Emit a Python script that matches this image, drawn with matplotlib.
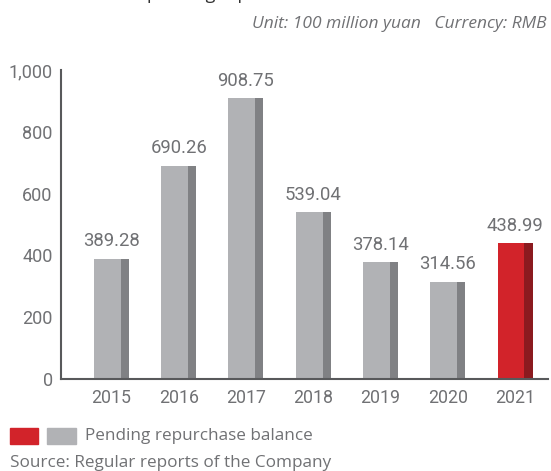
import matplotlib
matplotlib.use("Agg")
import matplotlib.pyplot as plt
from matplotlib.patches import Rectangle

years = ["2015", "2016", "2017", "2018", "2019", "2020", "2021"]
values = [389.28, 690.26, 908.75, 539.04, 378.14, 314.56, 438.99]
yticks = [0, 200, 400, 600, 800, 1000]
ytick_labels = ["0", "200", "400", "600", "800", "1,000"]

W, H = 551, 471
fig = plt.figure(figsize=(W / 100, H / 100), dpi=100)
ax = fig.add_axes([61 / W, 1 - 379 / H, (548 - 61) / W, (379 - 70) / H])

txt = "#707174"
num_font = "Roboto"
txt_font = "Open Sans"

gray_f, gray_s = "#b1b2b5", "#808184"
red_f, red_s = "#d2232a", "#8b1a1f"

x = list(range(len(years)))
front_colors = [gray_f] * 6 + [red_f]
side_colors = [gray_s] * 6 + [red_s]
ax.bar([i - 0.26 for i in x], values, width=0.40, align="edge", color=front_colors, zorder=2)
ax.bar([i + 0.14 for i in x], values, width=0.12, align="edge", color=side_colors, zorder=2)

for i, v in zip(x, values):
    ax.annotate(f"{v:.2f}", (i, v), xytext=(0, 6), textcoords="offset points",
                ha="center", va="bottom", fontsize=13.3, color=txt, family=num_font)

ax.set_xlim(-0.75, 6.49)
ax.set_ylim(0, 1000)
ax.set_xticks(x)
ax.set_xticklabels(years, fontsize=12.8, color=txt, family=num_font)
ax.set_yticks(yticks)
ax.set_yticklabels(ytick_labels, fontsize=13, color=txt, family=num_font)
ax.tick_params(axis="both", length=0)
ax.tick_params(axis="x", pad=7)
ax.tick_params(axis="y", pad=6)
for s in ["top", "right"]:
    ax.spines[s].set_visible(False)
for s in ["left", "bottom"]:
    ax.spines[s].set_color("#58595b")
    ax.spines[s].set_linewidth(1.5)

# partially cut-off title at the very top (as in the reference)
fig.text(147 / W, 1 + 1 / H, "pending repurchase balance", fontsize=13, color="#333333",
         family=txt_font, ha="left", va="baseline")

fig.text(546 / W, 1 - 24 / H, "Unit: 100 million yuan   Currency: RMB", fontsize=12.5,
         color=txt, family=txt_font, style="italic", ha="right", va="center")

# legend
fig.patches.append(Rectangle((10 / W, 1 - 444 / H), 28 / W, 16 / H, transform=fig.transFigure,
                             color=red_f))
fig.patches.append(Rectangle((47 / W, 1 - 444 / H), 29 / W, 16 / H, transform=fig.transFigure,
                             color=gray_f))
fig.text(85 / W, 1 - 436 / H, "Pending repurchase balance", fontsize=12.3, color=txt,
         family=txt_font, ha="left", va="center")
fig.text(10 / W, 1 - 463 / H, "Source: Regular reports of the Company", fontsize=12.3,
         color=txt, family=txt_font, ha="left", va="center")

fig.savefig("out.png", dpi=100)
